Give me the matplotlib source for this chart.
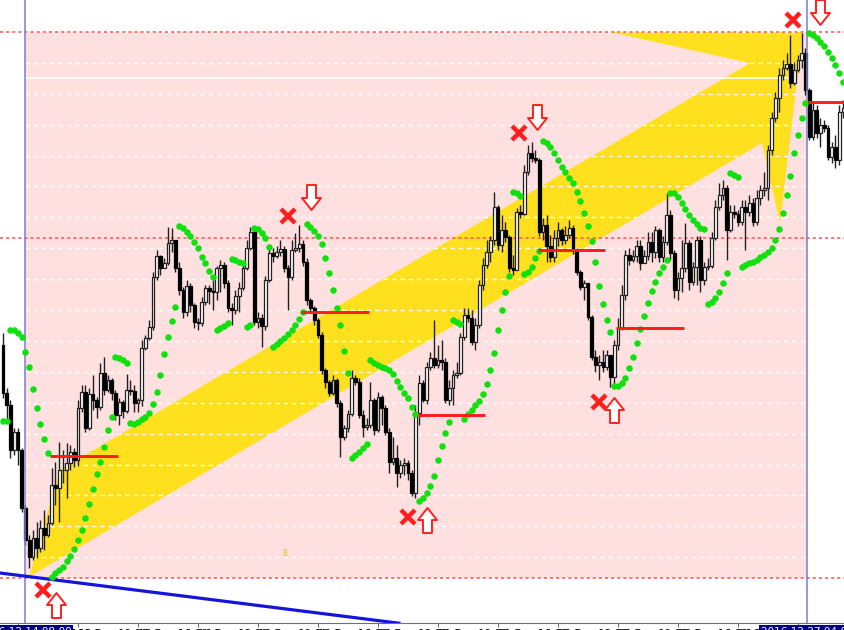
import numpy as np
import matplotlib
matplotlib.use('Agg')
import matplotlib.pyplot as plt
from matplotlib.path import Path
from matplotlib.patches import Polygon, Rectangle

# price in chart points, one value per bar; open of a bar = previous close
first_open = 285
close = [
    237, 225, 180, 198, 180, 122, 90, 73, 92, 82,
    102, 95, 107, 145, 142, 160, 160, 167, 178, 170,
    222, 238, 202, 236, 230, 223, 257, 240, 250, 237,
    215, 228, 219, 240, 239, 227, 230, 282, 292, 303,
    353, 374, 362, 367, 387, 390, 362, 340, 318, 344,
    325, 308, 307, 328, 342, 339, 338, 362, 365, 347,
    322, 320, 334, 342, 362, 382, 398, 308, 312, 304,
    350, 377, 374, 378, 381, 362, 353, 380, 382, 386,
    368, 330, 322, 310, 295, 260, 248, 237, 250, 227,
    193, 202, 216, 252, 248, 215, 203, 205, 230, 200,
    233, 222, 198, 168, 172, 157, 165, 167, 157, 137,
    217, 247, 230, 263, 272, 265, 270, 268, 230, 242,
    255, 257, 293, 315, 312, 288, 305, 345, 365, 378,
    390, 423, 385, 400, 393, 362, 360, 418, 416, 458,
    477, 472, 470, 398, 405, 384, 373, 392, 400, 390,
    395, 402, 380, 358, 343, 347, 313, 273, 265, 268,
    263, 275, 253, 285, 302, 335, 375, 370, 374, 384,
    367, 374, 388, 378, 400, 373, 388, 415, 377, 340,
    352, 362, 387, 348, 363, 390, 350, 363, 364, 392,
    423, 435, 442, 400, 418, 416, 408, 423, 418, 427,
    408, 432, 440, 442, 480, 512, 532, 555, 562, 566,
    547, 560, 570, 577, 540, 493, 520, 497, 505, 502,
    473, 483, 470, 518, 522]
high = [
    297, 242, 230, 202, 202, 182, 125, 95, 100, 108,
    110, 120, 115, 162, 168, 188, 180, 187, 185, 182,
    230, 245, 245, 242, 255, 233, 267, 273, 255, 252,
    240, 232, 230, 256, 250, 245, 232, 290, 295, 310,
    358, 380, 375, 372, 403, 402, 390, 368, 343, 350,
    347, 327, 312, 333, 345, 345, 350, 364, 370, 368,
    350, 327, 340, 348, 368, 390, 403, 402, 318, 316,
    354, 382, 382, 384, 390, 384, 365, 390, 397, 405,
    390, 372, 332, 324, 312, 298, 262, 250, 255, 252,
    230, 205, 220, 260, 255, 252, 220, 212, 248, 232,
    238, 235, 225, 202, 193, 185, 170, 172, 170, 160,
    225, 255, 250, 268, 278, 310, 285, 290, 272, 250,
    260, 268, 297, 322, 322, 320, 312, 350, 372, 390,
    394, 438, 425, 415, 408, 395, 375, 422, 425, 465,
    485, 488, 480, 472, 412, 415, 395, 400, 408, 402,
    404, 410, 405, 382, 360, 350, 340, 315, 280, 275,
    280, 280, 272, 290, 312, 345, 380, 382, 380, 390,
    390, 380, 398, 398, 404, 402, 394, 437, 420, 380,
    358, 390, 407, 390, 368, 394, 394, 368, 372, 398,
    430, 447, 450, 445, 425, 425, 420, 430, 430, 435,
    432, 440, 445, 458, 485, 518, 538, 562, 570, 577,
    595, 568, 575, 597, 582, 542, 528, 525, 512, 510,
    505, 488, 495, 525, 530]
low = [
    232, 210, 172, 175, 165, 118, 85, 62, 70, 72,
    78, 80, 93, 105, 125, 108, 147, 132, 160, 163,
    164, 218, 198, 200, 220, 212, 220, 235, 238, 230,
    210, 205, 212, 217, 235, 218, 218, 224, 280, 290,
    300, 350, 355, 362, 365, 378, 358, 335, 312, 314,
    318, 302, 300, 304, 325, 326, 320, 330, 338, 342,
    318, 305, 316, 318, 340, 360, 380, 305, 302, 283,
    300, 348, 368, 372, 374, 358, 320, 350, 378, 378,
    364, 325, 318, 305, 292, 256, 242, 234, 235, 223,
    173, 190, 198, 214, 245, 212, 193, 200, 202, 195,
    198, 205, 195, 157, 165, 143, 152, 155, 150, 134,
    132, 205, 228, 226, 260, 262, 262, 260, 227, 225,
    225, 252, 255, 290, 308, 285, 280, 302, 340, 362,
    368, 385, 380, 378, 388, 358, 355, 368, 412, 415,
    455, 468, 467, 394, 390, 368, 368, 368, 384, 385,
    386, 392, 376, 355, 340, 330, 310, 270, 258, 250,
    258, 260, 243, 245, 280, 300, 330, 365, 368, 368,
    360, 368, 370, 368, 372, 368, 368, 385, 370, 332,
    330, 338, 358, 340, 345, 345, 338, 345, 360, 362,
    390, 420, 430, 370, 398, 412, 404, 405, 380, 414,
    404, 405, 425, 434, 430, 475, 508, 518, 550, 560,
    542, 545, 558, 562, 535, 490, 490, 492, 483, 498,
    470, 467, 462, 465, 512]
# parabolic SAR, one dot per bar
sar = [
    209, 209, 300, 300, 297, 293, 278, 263, 241, 222,
    206, 191, 177, 53, 57, 60, 63, 69, 74, 81,
    90, 100, 112, 126, 141, 156, 168, 183, 200, 213,
    273, 272, 270, 267, 207, 206, 208, 211, 213, 217,
    226, 238, 255, 276, 293, 309, 323, 404, 402, 398,
    394, 388, 382, 373, 367, 359, 353, 300, 302, 304,
    307, 371, 370, 368, 367, 303, 305, 402, 401, 397,
    392, 383, 283, 286, 289, 292, 296, 300, 305, 311,
    318, 406, 403, 399, 394, 386, 372, 357, 340, 322,
    305, 279, 257, 172, 175, 178, 182, 186, 270, 267,
    265, 263, 262, 260, 256, 249, 243, 237, 232, 223,
    216, 129, 132, 137, 144, 154, 170, 184, 197, 208,
    310, 308, 306, 211, 216, 220, 225, 229, 236, 246,
    260, 277, 300, 320, 338, 354, 438, 437, 434, 356,
    358, 363, 372, 379, 489, 487, 483, 477, 470, 463,
    458, 452, 447, 438, 429, 417, 404, 389, 368, 344,
    326, 310, 298, 244, 244, 247, 252, 262, 273, 287,
    301, 314, 327, 339, 348, 357, 363, 370, 437, 437,
    433, 427, 421, 415, 410, 406, 402, 401, 326, 328,
    332, 338, 347, 357, 457, 455, 453, 363, 365, 367,
    368, 370, 373, 375, 378, 382, 390, 401, 417, 435,
    454, 477, 495, 512, 527, 597, 595, 592, 588, 584,
    578, 572, 565, 557, 548]

# SAR flip levels (red segments), 18 bars long
flip_bars = [13, 80, 111, 143, 164, 215]
flip_levels = [174, 318, 215, 380, 302, 528]
flip_len = 18

# swing signals: cross + hollow arrow
cross_bars = [10.7, 76.0, 108.0, 137.6, 158.9, 210.7]
cross_levels = [40, 414, 113, 497, 228, 610]
arrow_bars = [14.1, 82.1, 113.1, 142.4, 163.0, 217.9]
arrow_levels = [25, 433, 110, 513, 220, 618]
arrow_up = [True, False, True, False, True, False]

# objects
zone_bars = [5.87, 214.4]
zone_levels = [52, 598]
dotted_levels = [52, 392, 598]
white_level = 552
white_bars = [5.87, 209.9]
channel_bars = [6.93, 15.2, 199.2, 161.9, 213.3, 207.2, 202.4]
channel_levels = [53, 160, 567, 598, 598, 407, 487]
trend_bars = [-1, 106]
trend_levels = [57.1, 6.6]

time_ticks = list(range(4, 225, 16))
time_labels = ['14 Dec 2016', '15 Dec 00:00', '15 Dec 16:00', '16 Dec 08:00',
               '19 Dec 00:00', '19 Dec 16:00', '20 Dec 08:00', '21 Dec 00:00',
               '21 Dec 16:00', '22 Dec 08:00', '23 Dec 00:00', '23 Dec 16:00',
               '26 Dec 08:00', '27 Dec 00:00']
line_labels = ['2016.12.14 08:00', '2016.12.27 04:00']

fig = plt.figure(figsize=(8.44, 6.30), dpi=100)
ax = fig.add_axes([0, 7 / 630, 1, 623 / 630])
ax.set_xlim(-0.8, 224.27)
ax.set_ylim(7, 630)

# zone rectangle and yellow channel
ax.add_patch(Rectangle((zone_bars[0], zone_levels[0]), zone_bars[1] - zone_bars[0],
                       zone_levels[1] - zone_levels[0], facecolor='#ffe0e0',
                       edgecolor='none', zorder=0.9))
ax.add_patch(Polygon(list(zip(channel_bars, channel_levels)), closed=True,
                     facecolor='#ffe01e', edgecolor='none', zorder=1))

# grid
ax.set_yticks(np.arange(598, 0, -30.9))
ax.tick_params(axis='y', length=0, labelleft=False)
ax.grid(axis='y', color='white', linestyle=(0, (3, 3)), linewidth=1)
ax.set_axisbelow('line')

for lv in dotted_levels:
    ax.axhline(lv, color='#ff5050', linestyle=(0, (2, 2)), linewidth=1.1, zorder=1.6)
ax.plot(white_bars, [white_level, white_level], color='white', lw=1.2, zorder=1.6)

# candles
idx = np.arange(len(close))
c = np.array(close, float)
o = np.concatenate([[first_open], c[:-1]])
h = np.maximum(np.array(high, float), np.maximum(o, c))
l = np.minimum(np.array(low, float), np.minimum(o, c))
up = c >= o
ax.vlines(idx, l, h, color='#202020', lw=1.0, zorder=2)
ax.bar(idx[up], c[up] - o[up], bottom=o[up], width=0.75, color='white',
       edgecolor='#202020', linewidth=0.9, zorder=2.1)
ax.bar(idx[~up], o[~up] - c[~up], bottom=c[~up], width=0.75, color='black',
       edgecolor='black', linewidth=0.9, zorder=2.1)

# vertical lines and trendline
for xb in zone_bars:
    ax.axvline(xb, color='#7c7cd0', lw=1.1, zorder=2.5)
ax.plot(trend_bars, trend_levels, color='#1414dc', lw=2.3, zorder=3,
        solid_capstyle='butt')

# SAR
ax.plot(idx, sar, 'o', color='#10e010', ms=4.7, mew=0, zorder=3)

# flip segments
for b, lv in zip(flip_bars, flip_levels):
    ax.plot([b - 0.4, b - 0.4 + flip_len], [lv, lv], color='#ff1a1a', lw=2.1,
            zorder=3.5, solid_capstyle='butt')

# signals
verts = [(0, 0.5), (0.38, 0.02), (0.18, 0.02), (0.18, -0.5), (-0.18, -0.5),
         (-0.18, 0.02), (-0.38, 0.02), (0, 0.5)]
codes = [Path.MOVETO] + [Path.LINETO] * 6 + [Path.CLOSEPOLY]
up_arrow = Path(verts, codes)
down_arrow = Path([(x, -y) for x, y in verts], codes)
ax.plot(cross_bars, cross_levels, 'x', color='#ff1e1e', ms=10, mew=3.2, zorder=4)
for b, lv, u in zip(arrow_bars, arrow_levels, arrow_up):
    ax.plot([b], [lv], marker=up_arrow if u else down_arrow, ms=18, mfc='white',
            mec='#ff2020', mew=1.4, ls='none', zorder=4, clip_on=False)

ax.text(75.2, 77, '8', fontsize=5.5, color='#e6c200', ha='center', va='center')

# time axis
for s in ['left', 'right', 'top']:
    ax.spines[s].set_visible(False)
ax.spines['bottom'].set_color('#707070')
ax.set_xticks(time_ticks)
ax.set_xticklabels(time_labels)
ax.tick_params(axis='x', direction='out', length=3, color='#707070',
               labelsize=7.5, pad=1)
for lab in ax.get_xticklabels():
    lab.set_ha('left')
for xb, txt in zip(zone_bars, line_labels):
    ax.annotate(txt, xy=(xb, 0), xycoords=('data', 'axes fraction'),
                xytext=(0, -3), textcoords='offset points', ha='center', va='top',
                fontsize=7.5, color='white', zorder=5, annotation_clip=False,
                bbox=dict(boxstyle='square,pad=0.2', fc='#000080', ec='none'))

fig.savefig('out.png', dpi=100, facecolor='white')
